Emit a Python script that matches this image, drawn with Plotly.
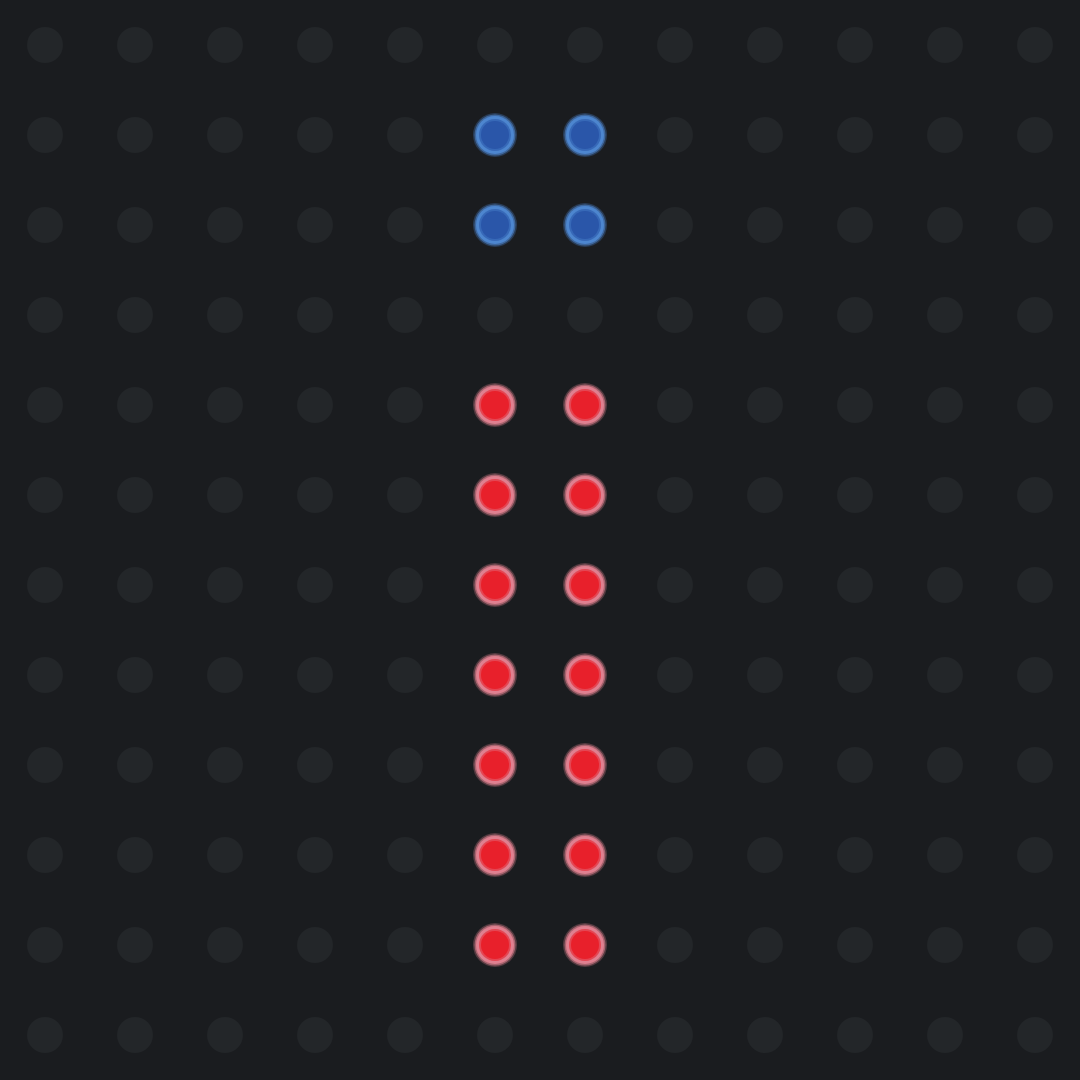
import plotly.graph_objects as go

n_cols = 12
n_rows = 12
# lit cells: (row, col) counted from top
blue_cells = [(1, 5), (1, 6), (2, 5), (2, 6)]
red_cells = [(r, c) for r in range(4, 11) for c in (5, 6)]

lit = set(blue_cells) | set(red_cells)
off_x = [c for r in range(n_rows) for c in range(n_cols) if (r, c) not in lit]
off_y = [r for r in range(n_rows) for c in range(n_cols) if (r, c) not in lit]

fig = go.Figure()
fig.add_trace(go.Scatter(x=off_x, y=off_y, mode="markers",
                         marker=dict(size=36, color="#232629", line_width=0),
                         hoverinfo="skip"))
# soft glow ring then core
for cells, ring, core in [(blue_cells, "#4d86cf", "#2a56a9"),
                          (red_cells, "#df8090", "#e8202b")]:
    xs = [c for r, c in cells]
    ys = [r for r, c in cells]
    for size, op in [(44, 0.3), (41, 0.6), (38, 1.0)]:
        fig.add_trace(go.Scatter(x=xs, y=ys, mode="markers",
                                 marker=dict(size=size, color=ring, opacity=op, line_width=0),
                                 hoverinfo="skip"))
    fig.add_trace(go.Scatter(x=xs, y=ys, mode="markers",
                             marker=dict(size=32, color=core, opacity=0.6, line_width=0),
                             hoverinfo="skip"))
    fig.add_trace(go.Scatter(x=xs, y=ys, mode="markers",
                             marker=dict(size=28, color=core, line_width=0),
                             hoverinfo="skip"))

fig.update_xaxes(range=[-0.5, n_cols - 0.5], visible=False)
fig.update_yaxes(range=[n_rows - 0.5, -0.5], visible=False)
fig.update_layout(width=1080, height=1080, showlegend=False,
                  margin=dict(l=0, r=0, t=0, b=0),
                  paper_bgcolor="#1a1c1f", plot_bgcolor="#1a1c1f")
fig.write_html("out.html", config={"displayModeBar": False},
               post_script="document.body.style.margin='0';document.body.style.background='#1a1c1f';document.body.style.overflow='hidden';")
